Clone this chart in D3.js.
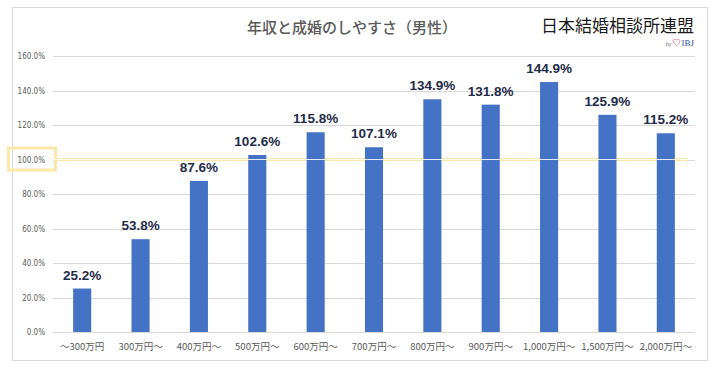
<!DOCTYPE html>
<html>
<head>
<meta charset="utf-8">
<script src="https://cdn.jsdelivr.net/npm/d3@7"></script>
<style>
  html, body { margin: 0; padding: 0; background: #fff; }
  svg { display: block; }
  .tick line { stroke: #d9d9d9; }
  .tick text { fill: #595959; font-family: "DejaVu Sans Condensed", "Liberation Sans", sans-serif; font-size: 8px; }
</style>
</head>
<body>
<svg id="chart" width="716" height="373"></svg>
<script>
const categories = ['〜300万円', '300万円〜', '400万円〜', '500万円〜', '600万円〜', '700万円〜',
  '800万円〜', '900万円〜', '1,000万円〜', '1,500万円〜', '2,000万円〜']
const rates = [25.2, 53.8, 87.6, 102.6, 115.8, 107.1, 134.9, 131.8, 144.9, 125.9, 115.2]
const yTicks = [0, 20, 40, 60, 80, 100, 120, 140, 160]
const title = '年収と成婚のしやすさ（男性）'
const brand = '日本結婚相談所連盟'

const svg = d3.select('#chart')
const plot = { left: 53, right: 695, top: 56, bottom: 332 }

// outer frame
svg.append('rect')
  .attr('x', 12.5).attr('y', 7.5)
  .attr('width', 695).attr('height', 353)
  .attr('fill', '#fff')
  .attr('stroke', '#d9d9d9')

const x = d3.scaleBand()
  .domain(categories)
  .range([plot.left, plot.right])
  .paddingInner(0.69)
  .paddingOuter(0.345)

const y = d3.scaleLinear()
  .domain([0, 160])
  .range([plot.bottom, plot.top])

// gridlines + y labels
const yAxis = svg.append('g')
  .attr('transform', `translate(${plot.left},0)`)
  .call(d3.axisLeft(y)
    .tickValues(yTicks)
    .tickSize(-(plot.right - plot.left))
    .tickPadding(8)
    .tickFormat(d => d.toFixed(1) + '%'))
yAxis.select('.domain').remove()
yAxis.selectAll('.tick line').attr('shape-rendering', 'crispEdges')

// highlight of the 100% line (sits behind the bars)
const y100 = y(100)
svg.append('line')
  .attr('x1', 56).attr('x2', 687)
  .attr('y1', y100).attr('y2', y100)
  .attr('stroke', '#fde7a6')
  .attr('stroke-width', 3)

svg.append('rect')
  .attr('x', 8.5).attr('y', y100 - 11.5)
  .attr('width', 47).attr('height', 22)
  .attr('fill', 'none')
  .attr('stroke', '#fde7a6')
  .attr('stroke-width', 3)

// bars
svg.append('g')
  .selectAll('rect')
  .data(rates)
  .enter().append('rect')
  .attr('x', (d, i) => x(categories[i]))
  .attr('y', d => y(d))
  .attr('width', x.bandwidth())
  .attr('height', d => y(0) - y(d))
  .attr('fill', '#4472c4')

// thin white line through the highlight
svg.append('line')
  .attr('x1', plot.left).attr('x2', plot.right)
  .attr('y1', y100).attr('y2', y100)
  .attr('stroke', '#fff')
  .attr('stroke-width', 1)
  .attr('opacity', 0.85)

// value labels
svg.append('g')
  .selectAll('text')
  .data(rates)
  .enter().append('text')
  .attr('x', (d, i) => x(categories[i]) + x.bandwidth() / 2)
  .attr('y', d => y(d) - 9)
  .attr('text-anchor', 'middle')
  .attr('font-family', '"Liberation Sans", Arial, sans-serif')
  .attr('font-weight', 'bold')
  .attr('font-size', 13.5)
  .attr('fill', '#1f2b4a')
  .text(d => d.toFixed(1) + '%')

// category labels
svg.append('g')
  .selectAll('text')
  .data(categories)
  .enter().append('text')
  .attr('x', d => x(d) + x.bandwidth() / 2)
  .attr('y', 350)
  .attr('text-anchor', 'middle')
  .attr('font-family', '"Noto Sans CJK JP", sans-serif')
  .attr('font-size', 9.5)
  .attr('fill', '#595959')
  .text(d => d)

// title
svg.append('text')
  .attr('x', 352).attr('y', 33)
  .attr('text-anchor', 'middle')
  .attr('font-family', '"Noto Sans CJK JP", sans-serif')
  .attr('font-size', 15)
  .attr('font-weight', 500)
  .attr('fill', '#595959')
  .text(title)

// brand logo
svg.append('text')
  .attr('x', 694).attr('y', 32)
  .attr('text-anchor', 'end')
  .attr('font-family', '"Noto Sans CJK JP", sans-serif')
  .attr('font-size', 17)
  .attr('fill', '#1a1a1a')
  .text(brand)

const ibj = svg.append('text')
  .attr('x', 694).attr('y', 46)
  .attr('text-anchor', 'end')
  .attr('font-family', '"Liberation Serif", serif')
  .attr('font-size', 9)
  .attr('fill', '#2b5a9c')
  .text('IBJ')
const ibjW = ibj.node().getComputedTextLength()

// small heart outline
const hx = 694 - ibjW - 5
const hy = 42
svg.append('path')
  .attr('d', `M${hx},${hy + 3.5} C${hx - 5},${hy} ${hx - 4},${hy - 4} ${hx},${hy - 2} C${hx + 4},${hy - 4} ${hx + 5},${hy} ${hx},${hy + 3.5} Z`)
  .attr('fill', 'none')
  .attr('stroke', '#e07a98')
  .attr('stroke-width', 0.9)

svg.append('text')
  .attr('x', hx - 5).attr('y', 46)
  .attr('text-anchor', 'end')
  .attr('font-family', '"Liberation Sans", sans-serif')
  .attr('font-size', 5.5)
  .attr('fill', '#777')
  .text('by')
</script>
</body>
</html>
